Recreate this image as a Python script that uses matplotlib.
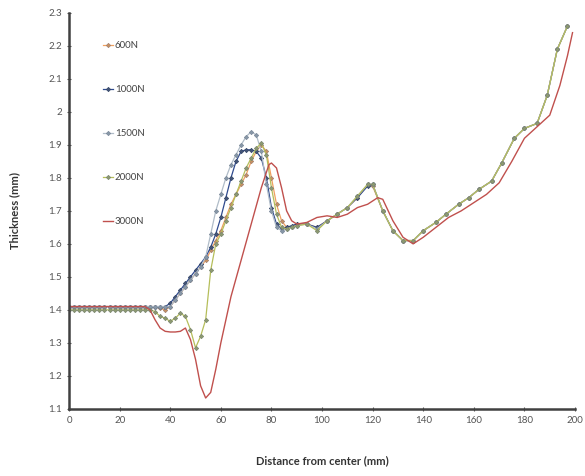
import matplotlib.pyplot as plt

plt.rcParams["font.family"] = ["Lato", "DejaVu Sans"]

# shared x positions (mm) for the marker series
x_pts = [0, 2, 4, 6, 8, 10, 12, 14, 16, 18, 20, 22, 24, 26, 28, 30, 32, 34, 36, 38,
         40, 42, 44, 46, 48, 50, 52, 54, 56, 58, 60, 62, 64, 66, 68, 70, 72, 74, 76, 78,
         80, 82, 84, 86, 88, 90, 94, 98, 102, 106, 110, 114, 118, 120, 124, 128, 132, 136,
         140, 145, 149, 154, 158, 162, 167, 171, 176, 180, 185, 189, 193, 197]

flat = [1.41] * 18

y_600 = flat + [1.405, 1.40,
                1.41, 1.43, 1.45, 1.47, 1.49, 1.51, 1.53, 1.55, 1.58, 1.61, 1.64, 1.68, 1.72, 1.75, 1.78, 1.81, 1.85, 1.88, 1.90, 1.88,
                1.80, 1.72, 1.67, 1.65, 1.65, 1.66, 1.66, 1.65, 1.67, 1.69, 1.71, 1.74, 1.78, 1.775, 1.70, 1.64, 1.61, 1.61,
                1.64, 1.665, 1.69, 1.72, 1.74, 1.765, 1.79, 1.845, 1.92, 1.95, 1.965, 2.05, 2.19, 2.26]

y_1000 = flat + [1.41, 1.41,
                 1.42, 1.44, 1.46, 1.48, 1.50, 1.52, 1.54, 1.56, 1.59, 1.63, 1.68, 1.74, 1.80, 1.85, 1.88, 1.885, 1.885, 1.88, 1.86, 1.80,
                 1.71, 1.66, 1.645, 1.65, 1.655, 1.66, 1.66, 1.65, 1.67, 1.69, 1.71, 1.74, 1.775, 1.78, 1.70, 1.64, 1.61, 1.61,
                 1.64, 1.665, 1.69, 1.72, 1.74, 1.765, 1.79, 1.845, 1.92, 1.95, 1.965, 2.05, 2.19, 2.26]

y_1500 = flat + [1.41, 1.41,
                 1.41, 1.43, 1.45, 1.47, 1.49, 1.51, 1.53, 1.56, 1.63, 1.70, 1.75, 1.80, 1.84, 1.87, 1.90, 1.925, 1.94, 1.93, 1.88, 1.78,
                 1.70, 1.65, 1.64, 1.645, 1.65, 1.655, 1.66, 1.645, 1.67, 1.69, 1.71, 1.745, 1.78, 1.78, 1.70, 1.64, 1.61, 1.61,
                 1.64, 1.665, 1.69, 1.72, 1.74, 1.765, 1.79, 1.845, 1.92, 1.95, 1.965, 2.05, 2.19, 2.26]

y_2000 = [1.40] * 17 + [1.395, 1.38, 1.375,
                        1.365, 1.375, 1.39, 1.38, 1.34, 1.285, 1.32, 1.37, 1.52, 1.60, 1.63, 1.67, 1.71, 1.75, 1.79, 1.83, 1.86, 1.89, 1.905, 1.87,
                        1.77, 1.69, 1.65, 1.645, 1.65, 1.655, 1.66, 1.64, 1.67, 1.69, 1.71, 1.745, 1.78, 1.78, 1.70, 1.64, 1.61, 1.61,
                        1.64, 1.665, 1.69, 1.72, 1.74, 1.765, 1.79, 1.845, 1.92, 1.95, 1.965, 2.05, 2.19, 2.26]

# 3000N, smooth line without markers
x_3000 = [0, 5, 10, 15, 20, 25, 30, 32, 34, 36, 38, 40, 42, 44, 46, 48, 50, 52, 54, 56, 58,
          60, 64, 68, 72, 76, 79, 80, 82, 84, 86, 88, 90, 94, 98, 102, 106, 110, 114, 118,
          122, 124, 128, 132, 136, 140, 145, 150, 155, 160, 165, 170, 175, 180, 185, 190,
          194, 197, 199]
y_3000 = [1.41, 1.41, 1.41, 1.41, 1.41, 1.41, 1.41, 1.40, 1.37, 1.345, 1.335, 1.333, 1.333, 1.335, 1.345, 1.31, 1.25, 1.17, 1.133, 1.15, 1.22,
          1.30, 1.44, 1.55, 1.66, 1.77, 1.84, 1.845, 1.83, 1.77, 1.70, 1.67, 1.66, 1.665, 1.68, 1.685, 1.68, 1.69, 1.71, 1.72,
          1.74, 1.735, 1.67, 1.62, 1.60, 1.62, 1.65, 1.68, 1.70, 1.725, 1.75, 1.785, 1.85, 1.92, 1.955, 1.99,
          2.08, 2.17, 2.24]

fig = plt.figure(figsize=(5.85, 4.76), dpi=100)
ax = fig.add_axes([0.118, 0.141, 0.865, 0.832])

mk = dict(marker="D", markersize=2.2, markeredgewidth=0.5, linewidth=0.9)
ax.plot(x_pts, y_600, color="#F0A060", markerfacecolor="#C89060", markeredgecolor="#A08070", label="600N", **mk)
ax.plot(x_pts, y_1000, color="#2F4A8E", markerfacecolor="#445577", markeredgecolor="#334466", label="1000N", **mk)
ax.plot(x_pts, y_1500, color="#B0BCC8", markerfacecolor="#8898A8", markeredgecolor="#7A8898", label="1500N", **mk)
ax.plot(x_pts, y_2000, color="#B5BE5A", markerfacecolor="#8E9A70", markeredgecolor="#7A8670", label="2000N", **mk)
ax.plot(x_3000, y_3000, color="#C0504D", linewidth=1.0, label="3000N")

ax.set_xlim(0, 200)
ax.set_ylim(1.1, 2.3)
ax.set_xticks(range(0, 201, 20))
ax.set_yticks([1.1, 1.2, 1.3, 1.4, 1.5, 1.6, 1.7, 1.8, 1.9, 2.0, 2.1, 2.2, 2.3])
ax.set_yticklabels(["1.1", "1.2", "1.3", "1.4", "1.5", "1.6", "1.7", "1.8", "1.9", "2", "2.1", "2.2", "2.3"])

for s in ["top", "right"]:
    ax.spines[s].set_visible(False)
for s in ["left", "bottom"]:
    ax.spines[s].set_linewidth(1.8)
    ax.spines[s].set_color("#404040")
ax.tick_params(axis="both", labelsize=7, colors="#555555", length=3, width=0.8, direction="inout")

ax.set_xlabel("Distance from center (mm)", fontsize=8, fontweight="bold", color="#333333", labelpad=22)
ax.set_ylabel("Thickness (mm)", fontsize=8, fontweight="bold", color="#333333", labelpad=20)

ax.legend(loc="upper left", bbox_to_anchor=(0.05, 0.95), frameon=False, fontsize=7,
          handlelength=1.0, handletextpad=0.2, labelspacing=3.6, labelcolor="#444444")

fig.savefig("out.png", dpi=100)
